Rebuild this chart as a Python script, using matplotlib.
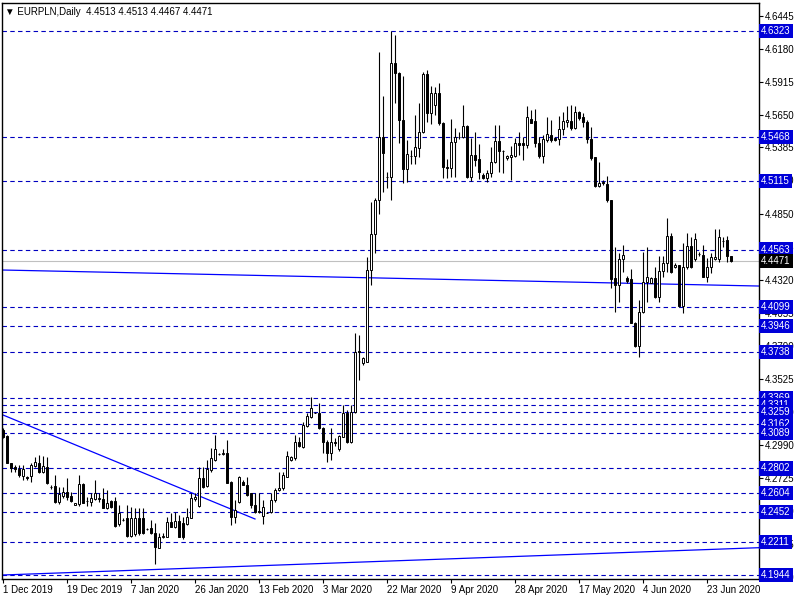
import matplotlib
matplotlib.use("Agg")
import matplotlib.pyplot as plt
import matplotlib.transforms as mtransforms
import numpy as np

# EURPLN daily bars, 1 Dec 2019 - 30 Jun 2020 (one bar per day, no Saturdays)
opens = [
    4.3115, 4.3063, 4.2843, 4.2816, 4.2798, 4.2741, 4.2736, 4.2741, 4.2824, 4.2849,
    4.2776, 4.2811, 4.2650, 4.2661, 4.2535, 4.2580, 4.2610, 4.2580, 4.2505, 4.2516,
    4.2677, 4.2540, 4.2529, 4.2556, 4.2553, 4.2556, 4.2481, 4.2540, 4.2540, 4.2355,
    4.2387, 4.2401, 4.2258, 4.2275, 4.2401, 4.2406, 4.2315, 4.2320, 4.2285, 4.2164,
    4.2248, 4.2253, 4.2374, 4.2334, 4.2379, 4.2366, 4.2355, 4.2406, 4.2553, 4.2500,
    4.2722, 4.2661, 4.2790, 4.2870, 4.2918, 4.2920, 4.2924, 4.2696, 4.2409, 4.2535,
    4.2696, 4.2669, 4.2602, 4.2508, 4.2460, 4.2419, 4.2446, 4.2454, 4.2548, 4.2628,
    4.2642, 4.2736, 4.2870, 4.2883, 4.3017, 4.2971, 4.3143, 4.3213, 4.3251, 4.3245,
    4.3125, 4.3017, 4.2923, 4.3017, 4.2955, 4.3058, 4.3245, 4.3017, 4.3259, 4.3745,
    4.3648, 4.3662, 4.4399, 4.4687, 4.4963, 4.5467, 4.5145, 4.5145, 4.6068, 4.5988,
    4.5607, 4.5210, 4.5317, 4.5317, 4.5379, 4.5513, 4.5977, 4.5660, 4.5727, 4.5821,
    4.5580, 4.5226, 4.5218, 4.5427, 4.5472, 4.5467, 4.5558, 4.5151, 4.5325, 4.5290,
    4.5164, 4.5137, 4.5178, 4.5271, 4.5438, 4.5360, 4.5298, 4.5306, 4.5317, 4.5419,
    4.5419, 4.5405, 4.5612, 4.5601, 4.5424, 4.5317, 4.5446, 4.5486, 4.5459, 4.5451,
    4.5532, 4.5593, 4.5601, 4.5540, 4.5674, 4.5628, 4.5593, 4.5451, 4.5306, 4.5076,
    4.5110, 4.5089, 4.4963, 4.4332, 4.4279, 4.4485, 4.4332, 4.4327, 4.3975, 4.3788,
    4.4064, 4.4305, 4.4297, 4.4332, 4.4185, 4.4394, 4.4453, 4.4673, 4.4420, 4.4440,
    4.4110, 4.4421, 4.4592, 4.4485, 4.4528, 4.4520, 4.4346, 4.4426, 4.4485, 4.4485,
    4.4635, 4.4641, 4.4513,
]
highs = [
    4.3125, 4.3072, 4.2849, 4.2830, 4.2830, 4.2830, 4.2741, 4.2843, 4.2897, 4.2910,
    4.2902, 4.2897, 4.2669, 4.2749, 4.2650, 4.2655, 4.2722, 4.2615, 4.2527, 4.2749,
    4.2682, 4.2575, 4.2602, 4.2709, 4.2602, 4.2642, 4.2629, 4.2548, 4.2575, 4.2508,
    4.2401, 4.2508, 4.2494, 4.2481, 4.2481, 4.2481, 4.2320, 4.2387, 4.2360, 4.2280,
    4.2280, 4.2414, 4.2441, 4.2454, 4.2427, 4.2414, 4.2481, 4.2602, 4.2602, 4.2816,
    4.2816, 4.2870, 4.2964, 4.3071, 4.2925, 4.2956, 4.3031, 4.2700, 4.2548, 4.2741,
    4.2709, 4.2736, 4.2602, 4.2607, 4.2602, 4.2548, 4.2450, 4.2602, 4.2642, 4.2776,
    4.2776, 4.2940, 4.2900, 4.3071, 4.3058, 4.3178, 4.3245, 4.3374, 4.3256, 4.3330,
    4.3138, 4.3030, 4.3125, 4.3050, 4.3070, 4.3312, 4.3272, 4.3312, 4.3890, 4.3876,
    4.3702, 4.4507, 4.4949, 4.4980, 4.6157, 4.5800, 4.5191, 4.6326, 4.6291, 4.5996,
    4.5961, 4.5446, 4.5365, 4.5647, 4.5746, 4.5996, 4.6009, 4.5880, 4.5875, 4.5907,
    4.5590, 4.5290, 4.5612, 4.5540, 4.5513, 4.5727, 4.5566, 4.5459, 4.5513, 4.5413,
    4.5178, 4.5204, 4.5392, 4.5566, 4.5566, 4.5366, 4.5323, 4.5398, 4.5459, 4.5513,
    4.5473, 4.5719, 4.5687, 4.5693, 4.5473, 4.5486, 4.5628, 4.5607, 4.5473, 4.5639,
    4.5674, 4.5719, 4.5727, 4.5719, 4.5682, 4.5660, 4.5607, 4.5553, 4.5306, 4.5270,
    4.5124, 4.5156, 4.4963, 4.4587, 4.4534, 4.4600, 4.4351, 4.4405, 4.3983, 4.4158,
    4.4547, 4.4587, 4.4346, 4.4426, 4.4512, 4.4512, 4.4815, 4.4694, 4.4453, 4.4440,
    4.4614, 4.4694, 4.4667, 4.4694, 4.4547, 4.4600, 4.4493, 4.4533, 4.4727, 4.4727,
    4.4662, 4.4673, 4.4513,
]
lows = [
    4.3045, 4.2843, 4.2776, 4.2776, 4.2736, 4.2709, 4.2709, 4.2696, 4.2816, 4.2763,
    4.2768, 4.2677, 4.2634, 4.2527, 4.2516, 4.2562, 4.2548, 4.2535, 4.2505, 4.2500,
    4.2521, 4.2500, 4.2500, 4.2548, 4.2535, 4.2481, 4.2473, 4.2481, 4.2334, 4.2339,
    4.2379, 4.2253, 4.2253, 4.2258, 4.2267, 4.2275, 4.2310, 4.2275, 4.2030, 4.2159,
    4.2240, 4.2248, 4.2328, 4.2326, 4.2248, 4.2232, 4.2347, 4.2401, 4.2540, 4.2489,
    4.2642, 4.2650, 4.2776, 4.2865, 4.2910, 4.2910, 4.2682, 4.2347, 4.2366, 4.2527,
    4.2669, 4.2580, 4.2481, 4.2441, 4.2446, 4.2355, 4.2440, 4.2441, 4.2535, 4.2620,
    4.2628, 4.2730, 4.2865, 4.2870, 4.2977, 4.2964, 4.3138, 4.3205, 4.3245, 4.3117,
    4.2929, 4.2856, 4.2870, 4.2980, 4.2945, 4.3052, 4.3009, 4.3009, 4.3245, 4.3514,
    4.3635, 4.3662, 4.4279, 4.4534, 4.4847, 4.5030, 4.5057, 4.4963, 4.5741, 4.5419,
    4.5097, 4.5110, 4.5253, 4.5253, 4.5306, 4.5500, 4.5593, 4.5575, 4.5647, 4.5566,
    4.5137, 4.5140, 4.5151, 4.5151, 4.5451, 4.5459, 4.5137, 4.5118, 4.5237, 4.5129,
    4.5129, 4.5111, 4.5151, 4.5258, 4.5191, 4.5183, 4.5285, 4.5124, 4.5306, 4.5325,
    4.5285, 4.5379, 4.5585, 4.5392, 4.5298, 4.5258, 4.5432, 4.5432, 4.5438, 4.5405,
    4.5486, 4.5553, 4.5526, 4.5532, 4.5607, 4.5553, 4.5419, 4.5285, 4.5070, 4.5070,
    4.5084, 4.4949, 4.4252, 4.4064, 4.4144, 4.4386, 4.4297, 4.3970, 4.3782, 4.3696,
    4.4056, 4.4144, 4.4292, 4.4171, 4.4144, 4.4346, 4.4386, 4.4378, 4.4413, 4.4099,
    4.4050, 4.4405, 4.4413, 4.4474, 4.4512, 4.4340, 4.4305, 4.4378, 4.4480, 4.4466,
    4.4587, 4.4466, 4.4467,
]
closes = [
    4.3052, 4.2849, 4.2803, 4.2798, 4.2749, 4.2795, 4.2722, 4.2830, 4.2857, 4.2776,
    4.2822, 4.2682, 4.2652, 4.2535, 4.2596, 4.2610, 4.2575, 4.2543, 4.2521, 4.2677,
    4.2527, 4.2543, 4.2562, 4.2602, 4.2567, 4.2486, 4.2527, 4.2494, 4.2342, 4.2441,
    4.2389, 4.2258, 4.2401, 4.2401, 4.2280, 4.2280, 4.2315, 4.2280, 4.2167, 4.2253,
    4.2261, 4.2374, 4.2334, 4.2379, 4.2253, 4.2248, 4.2409, 4.2567, 4.2575, 4.2722,
    4.2650, 4.2795, 4.2884, 4.2956, 4.2918, 4.2925, 4.2688, 4.2409, 4.2468, 4.2736,
    4.2669, 4.2588, 4.2508, 4.2454, 4.2454, 4.2494, 4.2446, 4.2548, 4.2629, 4.2647,
    4.2749, 4.2902, 4.2896, 4.3017, 4.2982, 4.3151, 4.3224, 4.3286, 4.3251, 4.3125,
    4.3017, 4.2929, 4.3017, 4.3010, 4.3063, 4.3245, 4.3017, 4.3259, 4.3742, 4.3740,
    4.3688, 4.4400, 4.4687, 4.4963, 4.5467, 4.5338, 4.5145, 4.6068, 4.5988, 4.5607,
    4.5210, 4.5330, 4.5315, 4.5392, 4.5513, 4.5977, 4.5666, 4.5821, 4.5821, 4.5580,
    4.5226, 4.5220, 4.5427, 4.5467, 4.5470, 4.5558, 4.5151, 4.5325, 4.5285, 4.5191,
    4.5137, 4.5178, 4.5271, 4.5438, 4.5360, 4.5360, 4.5317, 4.5325, 4.5419, 4.5405,
    4.5405, 4.5634, 4.5585, 4.5424, 4.5317, 4.5451, 4.5494, 4.5446, 4.5446, 4.5532,
    4.5601, 4.5607, 4.5540, 4.5674, 4.5620, 4.5593, 4.5451, 4.5298, 4.5076, 4.5097,
    4.5097, 4.4963, 4.4327, 4.4279, 4.4485, 4.4520, 4.4313, 4.3975, 4.3788, 4.4064,
    4.4305, 4.4346, 4.4332, 4.4185, 4.4394, 4.4453, 4.4673, 4.4386, 4.4440, 4.4110,
    4.4421, 4.4592, 4.4426, 4.4646, 4.4530, 4.4346, 4.4426, 4.4507, 4.4501, 4.4662,
    4.4635, 4.4512, 4.4471,
]

date_ticks = [0, 16, 32, 48, 64, 80, 96, 112, 128, 144, 160, 176]
date_labels = ["1 Dec 2019", "19 Dec 2019", "7 Jan 2020", "26 Jan 2020", "13 Feb 2020",
               "3 Mar 2020", "22 Mar 2020", "9 Apr 2020", "28 Apr 2020", "17 May 2020",
               "4 Jun 2020", "23 Jun 2020"]

price_ticks = [4.6445, 4.6180, 4.5915, 4.5650, 4.5385, 4.5120, 4.4850, 4.4585, 4.4320,
               4.4055, 4.3790, 4.3525, 4.3260, 4.2990, 4.2725, 4.2460, 4.2195, 4.1930]

levels = [4.6323, 4.5468, 4.5115, 4.4563, 4.4099, 4.3946, 4.3738, 4.3369, 4.3311,
          4.3259, 4.3162, 4.3089, 4.2802, 4.2604, 4.2452, 4.2211, 4.1944]
last_price = 4.4471

# trend lines: (bar, price) end points
trend_lines = [
    ((0, 4.3232), (63, 4.2395)),
    ((-0.25, 4.4399), (189, 4.4270)),
    ((-0.25, 4.1944), (189, 4.2164)),
]

plt.rcParams['font.family'] = ['Liberation Sans', 'DejaVu Sans']
FS = 7

fig = plt.figure(figsize=(8, 6), dpi=100)
ax = fig.add_axes([2 / 800, 21 / 600, 757 / 800, 576 / 600])
ax.set_xlim(-0.25, 189)
ax.set_ylim(4.1912, 4.6548)

o = np.array(opens)
h = np.array(highs)
l = np.array(lows)
c = np.array(closes)
x = np.arange(len(o))

# horizontal levels
for v in levels:
    ax.axhline(v, color='#0000c0', lw=0.8, ls=(0, (4, 3)), zorder=1)
ax.axhline(last_price, color='#c0c0c0', lw=0.8, zorder=1)

for (x0, y0), (x1, y1) in trend_lines:
    ax.plot([x0, x1], [y0, y1], color='#0000ff', lw=0.9, zorder=1.5)

# candles
ax.vlines(x, l, h, color='black', lw=0.8, zorder=2)
bull = c >= o
ax.bar(x, np.abs(c - o), bottom=np.minimum(o, c), width=0.6,
       color=np.where(bull, 'white', 'black'), edgecolor='black', linewidth=0.7, zorder=3)

# axes styling
for s in ax.spines.values():
    s.set_linewidth(1.0)
    s.set_color('black')

ax.yaxis.tick_right()
ax.set_yticks(price_ticks)
ax.set_yticklabels([f"{v:.4f}" for v in price_ticks])
ax.tick_params(axis='y', direction='out', length=3, width=0.8, pad=1.5, labelsize=FS)

ax.set_xticks(date_ticks)
ax.set_xticklabels(date_labels)
for lab in ax.get_xticklabels():
    lab.set_horizontalalignment('left')
ax.tick_params(axis='x', direction='out', length=3, width=0.8, pad=1.5, labelsize=FS)

trans = mtransforms.blended_transform_factory(ax.transAxes, ax.transData)
for v in levels:
    ax.text(1.0025, v, f"{v:.4f}", transform=trans, color='white', fontsize=FS,
            va='center', ha='left', clip_on=False, zorder=5,
            bbox=dict(boxstyle='square,pad=0.22', fc='#0000d8', ec='none'))
ax.text(1.0025, last_price, f"{last_price:.4f}", transform=trans, color='white',
        fontsize=FS, va='center', ha='left', clip_on=False, zorder=5,
        bbox=dict(boxstyle='square,pad=0.22', fc='black', ec='none'))

ax.text(0.004, 0.984, "\u25bc EURPLN,Daily  4.4513 4.4513 4.4467 4.4471",
        transform=ax.transAxes, fontsize=FS, va='center', ha='left')

fig.savefig('out.png', dpi=100)
